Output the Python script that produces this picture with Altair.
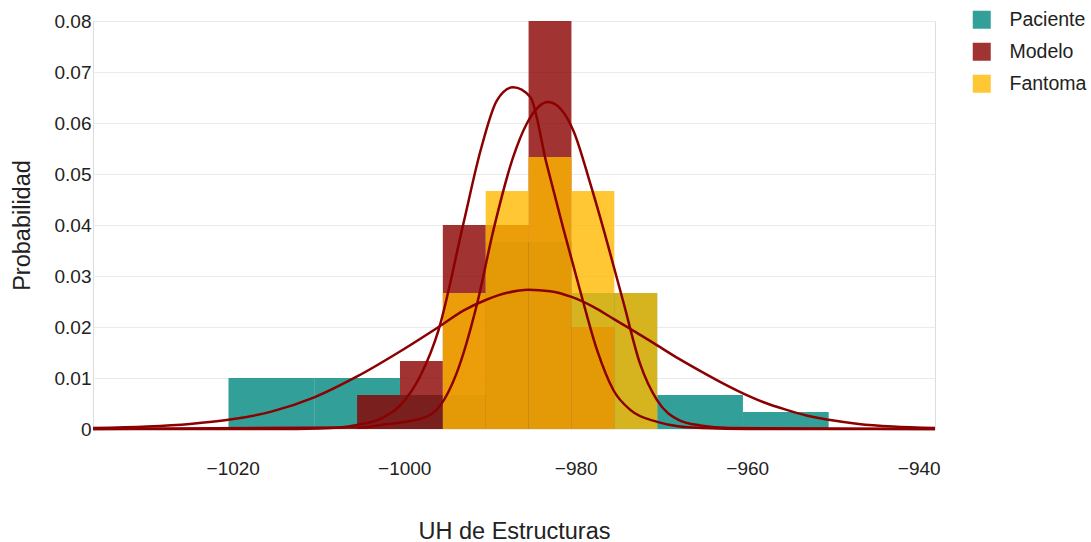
import altair as alt
import pandas as pd

# ---------------- data ----------------
series_names = ["Paciente", "Modelo", "Fantoma"]
series_colors = ["#00877f", "#8b0000", "#feb900"]

# Histograms (probability density)
pac_start = [-1020.5, -1010.5, -1000.5, -990.5, -980.5, -970.5, -960.5]
pac_end = [-1010.5, -1000.5, -990.5, -980.5, -970.5, -960.5, -950.5]
pac_dens = [0.01, 0.01, 0.00667, 0.03667, 0.02667, 0.00667, 0.00333]

mod_start = [-1005.5, -1000.5, -995.5, -990.5, -985.5, -980.5]
mod_end = [-1000.5, -995.5, -990.5, -985.5, -980.5, -975.5]
mod_dens = [0.00667, 0.01333, 0.04, 0.04, 0.08, 0.02]

fan_start = [-995.5, -990.5, -985.5, -980.5, -975.5]
fan_end = [-990.5, -985.5, -980.5, -975.5, -970.5]
fan_dens = [0.02667, 0.04667, 0.05333, 0.04667, 0.02667]

# Density curves
pac_kx = [-1036.3, -1030, -1025, -1020.5, -1015.5, -1010.5, -1005.5, -1000.5,
          -996, -993, -990.5, -988, -985.5, -983, -980.5, -978, -975.5, -973,
          -970.5, -968, -965.5, -963, -960.5, -958, -955.5, -953, -950.5, -947,
          -943, -938.1]
pac_ky = [0.0002, 0.0005, 0.001, 0.0018, 0.0034, 0.0062, 0.0103, 0.0152,
          0.0200, 0.0233, 0.0253, 0.0267, 0.0273, 0.0270, 0.0259, 0.0240, 0.0215, 0.0190,
          0.0164, 0.0138, 0.0114, 0.0091, 0.0070, 0.0052, 0.0038, 0.0026, 0.0018, 0.0010,
          0.0005, 0.0002]

mod_kx = [-1036.3, -1015, -1010, -1007.5, -1005.5, -1002.8, -1000.5, -998.1, -996.0,
          -993.1, -991.1, -989.2, -987.3, -985.3, -983.4, -981.4, -979.5, -977.5,
          -975.6, -973.6, -970.5, -967.9, -965, -960, -938.1]
mod_ky = [0, 0, 0.0001, 0.0003, 0.0008, 0.002, 0.0046, 0.0105, 0.0194,
          0.0403, 0.0546, 0.0644, 0.067, 0.0651, 0.052, 0.039, 0.0272, 0.0154,
          0.0076, 0.0037, 0.0014, 0.0005, 0.0002, 0, 0]

fan_kx = [-1036.3, -1005, -1002.8, -998.1, -995.8, -993.9, -991.5, -989.6, -987.3,
          -985.7, -983.2, -980.3, -978.3, -976.4, -974.4, -972.5, -970.5, -967.9,
          -965.5, -962, -938.1]
fan_ky = [0, 0.0003, 0.0008, 0.002, 0.0046, 0.0109, 0.0246, 0.039, 0.0533,
          0.0599, 0.0641, 0.0586, 0.0481, 0.037, 0.0246, 0.0128, 0.0056, 0.0017,
          0.0007, 0.0002, 0]

x_ticks = [-1020, -1000, -980, -960, -940]
y_ticks = [0, 0.01, 0.02, 0.03, 0.04, 0.05, 0.06, 0.07, 0.08]

# ---------------- tables ----------------
rows = []
for name, s, e, d in [("Paciente", pac_start, pac_end, pac_dens),
                      ("Modelo", mod_start, mod_end, mod_dens),
                      ("Fantoma", fan_start, fan_end, fan_dens)]:
    for a, b, v in zip(s, e, d):
        rows.append({"serie": name, "x0": a, "x1": b, "dens": v})
hist = pd.DataFrame(rows)

krows = []
for name, xs, ys in [("Paciente", pac_kx, pac_ky),
                     ("Modelo", mod_kx, mod_ky),
                     ("Fantoma", fan_kx, fan_ky)]:
    for i, (a, v) in enumerate(zip(xs, ys)):
        krows.append({"serie": name, "x": a, "y": v, "i": i})
kde = pd.DataFrame(krows)

FONT = "Liberation Sans"
xscale = alt.Scale(domain=[-1036.3, -938.1], nice=False, zero=False)
yscale = alt.Scale(domain=[0, 0.08], nice=False)

bars = alt.Chart(hist).mark_rect(opacity=0.8).encode(
    x=alt.X("x0:Q", scale=xscale,
            axis=alt.Axis(values=x_ticks, title="UH de Estructuras", grid=False,
                          format="d",
                          domain=False, ticks=False, tickSize=0,
                          labelFontSize=19, labelFont=FONT, labelColor="#222",
                          labelPadding=45, labelBaseline="alphabetic",
                          titleFontSize=23.5, titleFont=FONT, titleFontWeight="normal",
                          titleColor="#222", titleY=109, titleBaseline="alphabetic")),
    x2="x1:Q",
    y=alt.Y("dens:Q", scale=yscale,
            axis=alt.Axis(values=y_ticks, title="Probabilidad", grid=True,
                          gridColor="#ebebeb", gridWidth=1.2,
                          domain=False, ticks=False, tickSize=0,
                          labelFontSize=19, labelFont=FONT, labelColor="#222",
                          labelPadding=2,
                          labelExpr="datum.value == 0 ? '0' : format(datum.value, '.2f')",
                          titleFontSize=23.5, titleFont=FONT, titleFontWeight="normal",
                          titleColor="#222", titleX=-64, titleY=204,
                          titleBaseline="alphabetic")),
    y2=alt.datum(0),
    color=alt.Color("serie:N",
                    scale=alt.Scale(domain=series_names, range=series_colors),
                    legend=alt.Legend(title=None, orient="none", legendX=879, legendY=-11,
                                      symbolType="square", symbolSize=324,
                                      symbolOpacity=0.8, symbolStrokeWidth=0,
                                      labelFontSize=19.5, labelFont=FONT, labelColor="#222",
                                      labelOffset=18, rowPadding=11, padding=0)),
    order=alt.Order("ord:Q"),
).transform_calculate(
    ord="datum.serie == 'Paciente' ? 0 : (datum.serie == 'Modelo' ? 1 : 2)"
)

lines = alt.Chart(kde).mark_line(color="#8b0000", strokeWidth=2.5,
                                 interpolate="monotone").encode(
    x=alt.X("x:Q", scale=xscale),
    y=alt.Y("y:Q", scale=yscale),
    detail="serie:N",
    order="i:Q",
)

chart = alt.layer(bars, lines).properties(
    width=842, height=408,
    autosize=alt.AutoSizeParams(type="none"),
    padding={"left": 93, "top": 21, "right": 156, "bottom": 113},
).configure_view(strokeWidth=0).configure(font=FONT)

chart.save("out.html", embed_options={"renderer": "svg", "actions": False})
